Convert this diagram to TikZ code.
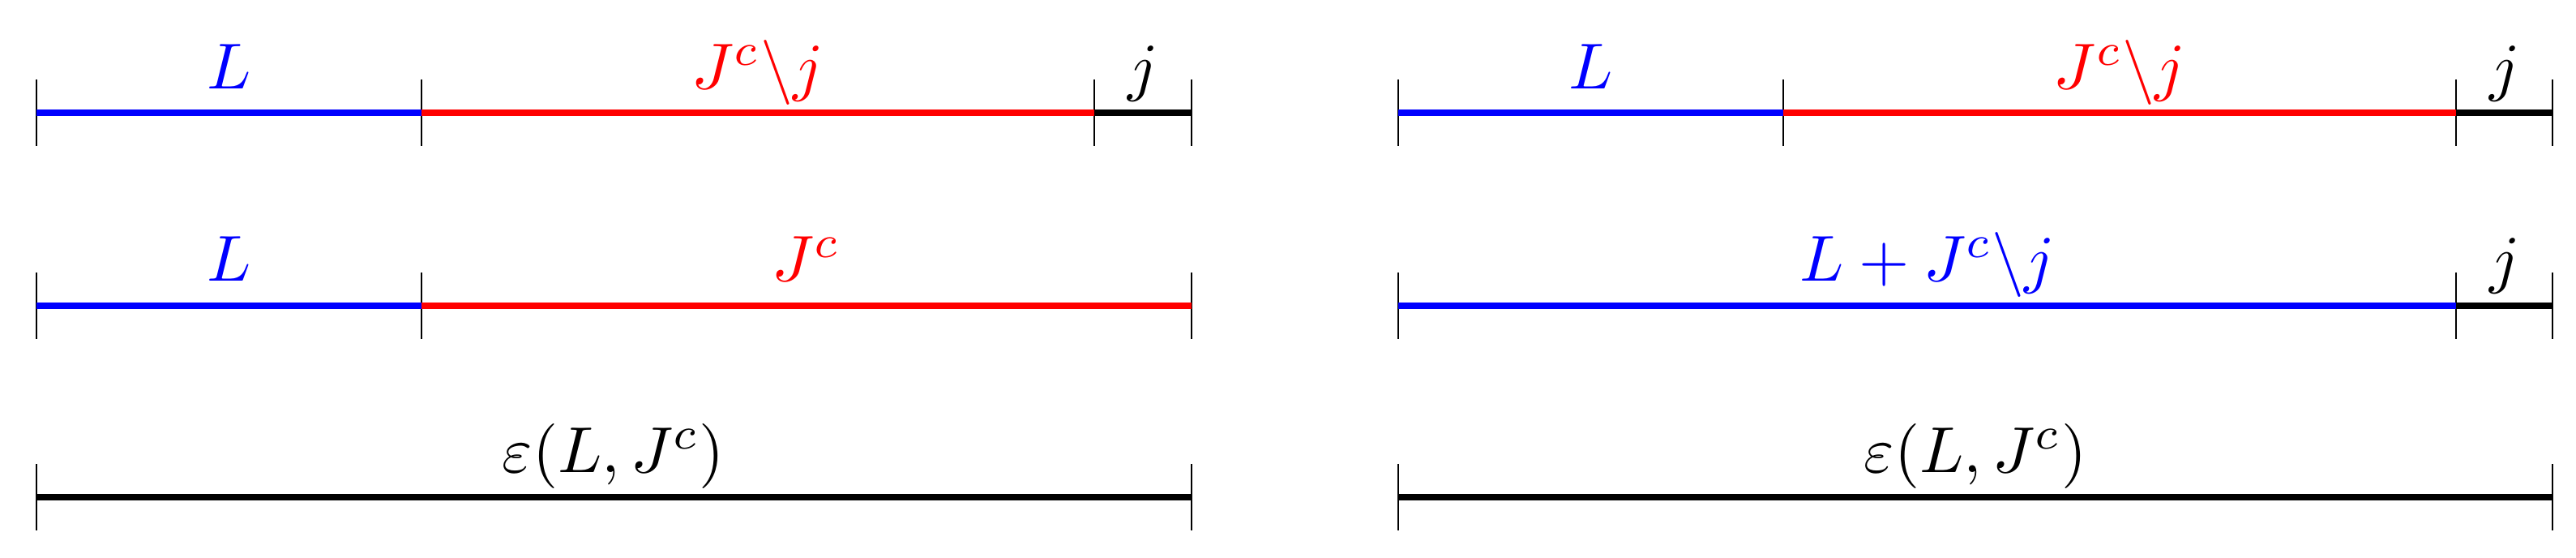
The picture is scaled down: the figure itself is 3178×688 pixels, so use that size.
\documentclass[tikz,border=0pt]{standalone}
\newcommand{\lbx}[1]{\scalebox{4}{$#1$}}
\begin{document}
\begin{tikzpicture}[x=0.5pt,y=-0.5pt,
  seg/.style={line width=3.6pt},
  tick/.style={line width=0.6pt},
  lab/.style={anchor=base,inner sep=0pt}]
\useasboundingbox (0,0) rectangle (3178,688);
\def\rowA{139}\def\rowB{377}\def\rowC{613}
\foreach \x/\y in {45/\rowA,520/\rowA,1350/\rowA,1470/\rowA,
                   45/\rowB,520/\rowB,1470/\rowB,
                   45/\rowC,1470/\rowC,
                   1725/\rowA,2200/\rowA,3030/\rowA,3149/\rowA,
                   1725/\rowB,3030/\rowB,3149/\rowB,
                   1725/\rowC,3149/\rowC}
  \draw[tick] (\x,\y-41) -- (\x,\y+41);
% left column
\coordinate (a0) at (45,\rowA); \coordinate (a1) at (520,\rowA);
\coordinate (a2) at (1350,\rowA); \coordinate (a3) at (1470,\rowA);
\draw[seg,blue] (a0) -- (a1); \draw[seg,red] (a1) -- (a2); \draw[seg,black] (a2) -- (a3);
\node[lab,blue] (la1) at (283,110) {\lbx{L}};
\node[lab,red] (la2) at (935,110) {\lbx{J^c\backslash j}};
\node[lab] (la3) at (1410,110) {\lbx{j}};
\coordinate (b0) at (45,\rowB); \coordinate (b1) at (520,\rowB); \coordinate (b2) at (1470,\rowB);
\draw[seg,blue] (b0) -- (b1); \draw[seg,red] (b1) -- (b2);
\node[lab,blue] (lb1) at (283,347) {\lbx{L}};
\node[lab,red] (lb2) at (995,347) {\lbx{J^c}};
\coordinate (c0) at (45,\rowC); \coordinate (c1) at (1470,\rowC);
\draw[seg,black] (c0) -- (c1);
\node[lab] (lc) at (757,583) {\lbx{\varepsilon(L,J^c)}};
% right column
\coordinate (d0) at (1725,\rowA); \coordinate (d1) at (2200,\rowA);
\coordinate (d2) at (3030,\rowA); \coordinate (d3) at (3149,\rowA);
\draw[seg,blue] (d0) -- (d1); \draw[seg,red] (d1) -- (d2); \draw[seg,black] (d2) -- (d3);
\node[lab,blue] (ld1) at (1963,110) {\lbx{L}};
\node[lab,red] (ld2) at (2615,110) {\lbx{J^c\backslash j}};
\node[lab] (ld3) at (3090,110) {\lbx{j}};
\coordinate (e0) at (1725,\rowB); \coordinate (e1) at (3030,\rowB); \coordinate (e2) at (3149,\rowB);
\draw[seg,blue] (e0) -- (e1); \draw[seg,black] (e1) -- (e2);
\node[lab,blue] (le1) at (2378,347) {\lbx{L+J^c\backslash j}};
\node[lab] (le2) at (3090,347) {\lbx{j}};
\coordinate (f0) at (1725,\rowC); \coordinate (f1) at (3149,\rowC);
\draw[seg,black] (f0) -- (f1);
\node[lab] (lf) at (2437,583) {\lbx{\varepsilon(L,J^c)}};
\end{tikzpicture}
\end{document}
